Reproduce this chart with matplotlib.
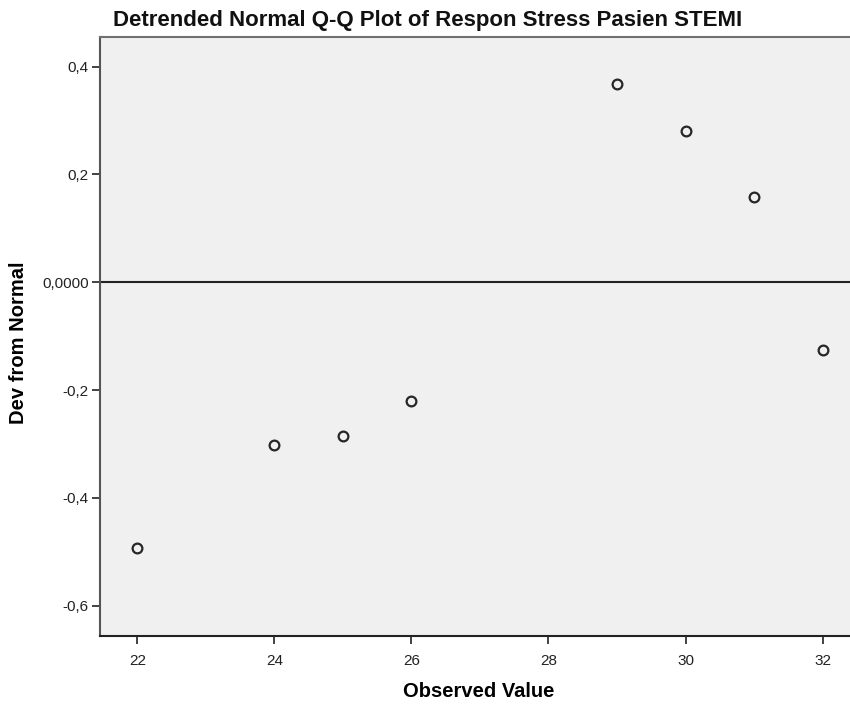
from matplotlib import pyplot as plt
from matplotlib.ticker import FuncFormatter

# data
observed = [22, 24, 25, 26, 29, 30, 31, 32]
deviation = [-0.493, -0.301, -0.285, -0.220, 0.368, 0.281, 0.158, -0.126]
x_ticks = [22, 24, 26, 28, 30, 32]
y_ticks = [-0.6, -0.4, -0.2, 0.0, 0.2, 0.4]

plt.rcParams['font.family'] = ['Liberation Sans', 'DejaVu Sans']


def comma_fmt(v, pos):
    if abs(v) < 1e-9:
        return '0,0000'
    return f'{v:.1f}'.replace('.', ',')


fig = plt.figure(figsize=(8.5, 7.06), dpi=100)
ax = fig.add_axes([100 / 850, 1 - 636 / 706, 750 / 850, 599 / 706])
ax.set_facecolor('#f0f0f0')

ax.axhline(0, color='#222222', linewidth=1.5, zorder=1)
ax.plot(observed, deviation, linestyle='none', marker='o', markersize=7,
        markerfacecolor='none', markeredgecolor='#262626', markeredgewidth=1.6, zorder=3)

ax.set_xlim(21.455, 32.40)
ax.set_ylim(-0.656, 0.455)
ax.set_xticks(x_ticks)
ax.set_yticks(y_ticks)
ax.yaxis.set_major_formatter(FuncFormatter(comma_fmt))
ax.tick_params(direction='out', length=6, width=1.2, color='#222222',
               labelsize=11, labelcolor='#222222', pad=2)
ax.tick_params(axis='x', pad=7)

for side in ['left', 'bottom', 'top']:
    ax.spines[side].set_linewidth(1.5)
ax.spines['left'].set_color('#555555')
ax.spines['bottom'].set_color('#222222')
ax.spines['top'].set_color('#707070')
ax.spines['right'].set_visible(False)

ax.set_xlabel('Observed Value', fontsize=14.5, fontweight='bold', va='center')
ax.xaxis.set_label_coords(0.505, -0.092)
ax.set_ylabel('Dev from Normal', fontsize=14.5, fontweight='bold', va='center')
ax.yaxis.set_label_coords(-0.109, 0.49)

fig.text(113 / 850, 1 - 26 / 706, 'Detrended Normal Q-Q Plot of Respon Stress Pasien STEMI',
         fontsize=16, fontweight='bold', ha='left', va='baseline', color='#111111')

fig.savefig('out.png', dpi=100)
